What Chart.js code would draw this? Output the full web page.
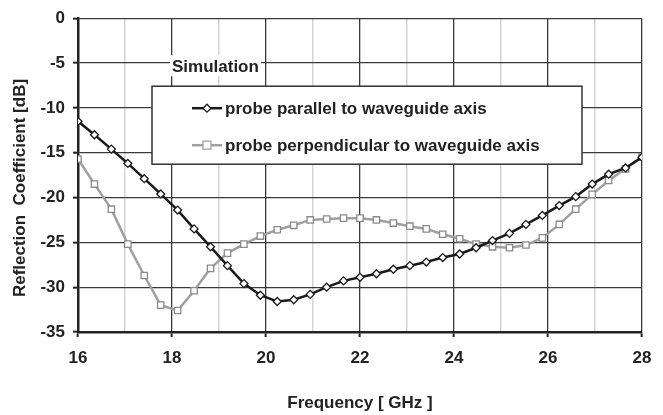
<!DOCTYPE html>
<html>
<head>
<meta charset="utf-8">
<script src="https://cdn.jsdelivr.net/npm/chart.js@4.4.1/dist/chart.umd.min.js"></script>
<style>
  html, body { margin: 0; padding: 0; background: #fff; }
  #wrap { width: 663px; height: 415px; position: relative; }
</style>
</head>
<body>
<div id="wrap"><canvas id="reflChart"></canvas></div>
<script>
// frequency points (GHz)
const freqs = [16.00, 16.35, 16.71, 17.06, 17.41, 17.76, 18.12, 18.47, 18.82, 19.18,
               19.53, 19.88, 20.24, 20.59, 20.94, 21.29, 21.65, 22.00, 22.35, 22.71,
               23.06, 23.41, 23.76, 24.12, 24.47, 24.82, 25.18, 25.53, 25.88, 26.24,
               26.59, 26.94, 27.29, 27.65, 28.00];

// reflection coefficient [dB]
const parallelDb = [-11.5, -13.0, -14.6, -16.2, -17.9, -19.6, -21.4, -23.5, -25.5, -27.6,
                    -29.6, -30.9, -31.6, -31.4, -30.8, -30.0, -29.3, -28.9, -28.5, -28.0,
                    -27.6, -27.2, -26.7, -26.3, -25.6, -24.8, -24.0, -23.0, -22.0, -20.9,
                    -19.9, -18.5, -17.4, -16.7, -15.5];

const perpendicularDb = [-15.7, -18.5, -21.3, -25.2, -28.7, -32.0, -32.6, -30.4, -27.9, -26.2,
                         -25.2, -24.3, -23.6, -23.1, -22.5, -22.4, -22.3, -22.3, -22.5, -22.85,
                         -23.2, -23.5, -24.1, -24.6, -25.2, -25.5, -25.6, -25.3, -24.5, -23.0,
                         -21.3, -19.65, -18.1, -16.8, -15.5];

const seriesLabels = ['probe parallel to waveguide axis', 'probe perpendicular to waveguide axis'];
const xTickLabels = ['16', '18', '20', '22', '24', '26', '28'];
const yTickLabels = ['0', '-5', '-10', '-15', '-20', '-25', '-30', '-35'];

const FONT = '"Liberation Sans", Arial, sans-serif';

function toPoints(ys) {
    return freqs.map(function(f, i) { return { x: f, y: ys[i] }; });
}

// legend box, "Simulation" note and y axis title
const extrasPlugin = {
    id: 'extras',
    afterDatasetsDraw: function(chart) {
        const ctx = chart.ctx;
        const area = chart.chartArea;
        ctx.save();

        // Simulation note
        ctx.fillStyle = '#fff';
        ctx.fillRect(area.left + 92, area.top + 37, 91, 21);
        ctx.fillStyle = '#222';
        ctx.font = 'bold 17px ' + FONT;
        ctx.textBaseline = 'middle';
        ctx.fillText('Simulation', area.left + 94, area.top + 49);

        // legend
        const bx = area.left + 74, by = area.top + 68, bw = 430, bh = 78;
        ctx.fillStyle = '#fff';
        ctx.fillRect(bx, by, bw, bh);
        ctx.strokeStyle = '#333';
        ctx.lineWidth = 1.5;
        ctx.strokeRect(bx, by, bw, bh);

        chart.data.datasets.forEach(function(ds, i) {
            const ly = by + 22 + i * 37;
            const lx = bx + 40;
            ctx.strokeStyle = ds.borderColor;
            ctx.lineWidth = ds.borderWidth;
            ctx.beginPath();
            ctx.moveTo(lx, ly);
            ctx.lineTo(lx + 30, ly);
            ctx.stroke();
            ctx.fillStyle = '#fff';
            ctx.lineWidth = 1.3;
            ctx.beginPath();
            if (ds.pointStyle === 'rectRot') {
                ctx.moveTo(lx + 15, ly - 4);
                ctx.lineTo(lx + 19, ly);
                ctx.lineTo(lx + 15, ly + 4);
                ctx.lineTo(lx + 11, ly);
                ctx.closePath();
            } else {
                ctx.rect(lx + 11, ly - 4, 8, 8);
            }
            ctx.fill();
            ctx.stroke();
            ctx.fillStyle = '#222';
            ctx.font = 'bold 17px ' + FONT;
            ctx.fillText(ds.label, lx + 33, ly + 1);
        });

        // y axis title
        ctx.translate(20, 188);
        ctx.rotate(-Math.PI / 2);
        ctx.textAlign = 'center';
        ctx.fillStyle = '#222';
        ctx.font = 'bold 17px ' + FONT;
        ctx.fillText('Reflection  Coefficient [dB]', 0, 0);
        ctx.restore();
    }
};

const reflCtx = document.getElementById('reflChart').getContext('2d');
new Chart(reflCtx, {
    type: 'line',
    data: {
        datasets: [{
            label: seriesLabels[0],
            data: toPoints(parallelDb),
            borderColor: '#1a1a1a',
            borderWidth: 2.5,
            pointStyle: 'rectRot',
            pointRadius: 4,
            pointBackgroundColor: '#fff',
            pointBorderColor: '#1a1a1a',
            pointBorderWidth: 1.3,
            tension: 0
        }, {
            label: seriesLabels[1],
            data: toPoints(perpendicularDb),
            borderColor: '#a0a0a0',
            borderWidth: 2.5,
            pointStyle: 'rect',
            pointRadius: 4.5,
            pointBackgroundColor: '#fff',
            pointBorderColor: '#8a8a8a',
            pointBorderWidth: 1.3,
            tension: 0
        }]
    },
    options: {
        responsive: true,
        maintainAspectRatio: false,
        animation: false,
        layout: { padding: { top: 15, right: 21, left: 0, bottom: 0 } },
        plugins: {
            legend: { display: false },
            tooltip: { enabled: false }
        },
        scales: {
            x: {
                type: 'linear',
                min: 16,
                max: 28,
                afterFit: function(scale) { scale.height = 83; },
                ticks: {
                    stepSize: 1,
                    padding: 11,
                    color: '#222',
                    font: { family: FONT, size: 17, weight: 'bold' },
                    maxRotation: 0,
                    callback: function(value) {
                        const s = String(value);
                        return xTickLabels.indexOf(s) >= 0 ? s : '';
                    }
                },
                grid: {
                    color: function(c) {
                        return c.tick && c.tick.value % 2 !== 0 ? '#d4d4d4' : '#3a3a3a';
                    },
                    lineWidth: function(c) {
                        return c.tick && c.tick.value % 2 !== 0 ? 1.5 : 1.3;
                    },
                    tickLength: 5,
                    tickColor: function(c) {
                        return c.tick && c.tick.value % 2 !== 0 ? 'rgba(0,0,0,0)' : '#222';
                    },
                    tickWidth: 2
                },
                border: { display: true, color: '#222', width: 2.5 },
                title: {
                    display: true,
                    text: 'Frequency [ GHz ]',
                    color: '#222',
                    font: { family: FONT, size: 17, weight: 'bold' },
                    padding: { top: 30, bottom: 1 }
                }
            },
            y: {
                min: -35,
                max: 0,
                afterFit: function(scale) { scale.width = 78; },
                ticks: {
                    stepSize: 5,
                    padding: 8,
                    color: '#222',
                    font: { family: FONT, size: 17, weight: 'bold' },
                    callback: function(value) {
                        const s = String(value);
                        return yTickLabels.indexOf(s) >= 0 ? s : '';
                    }
                },
                grid: {
                    color: '#3a3a3a',
                    lineWidth: 1.3,
                    tickLength: 5,
                    tickColor: '#222',
                    tickWidth: 2
                },
                border: { display: true, color: '#222', width: 2.5 }
            }
        }
    },
    plugins: [extrasPlugin]
});
</script>
</body>
</html>
